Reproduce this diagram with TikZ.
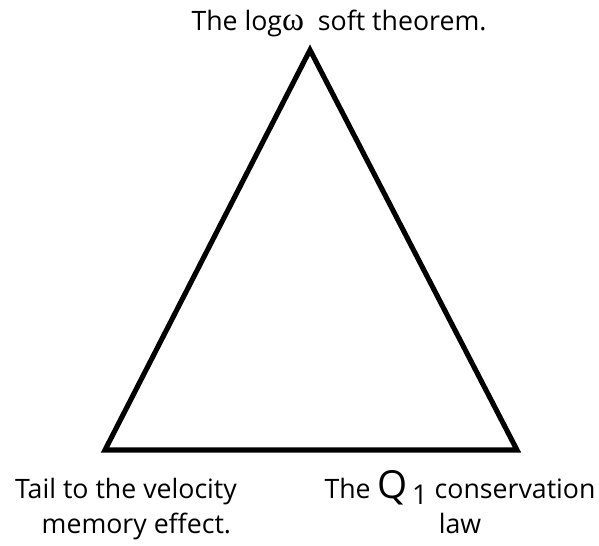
\documentclass[tikz,border=0pt]{standalone}
\usepackage{fontspec}
\setmainfont{Open Sans}
\newfontfamily\grkfont{Liberation Serif}
\usetikzlibrary{positioning}

\begin{document}
\begin{tikzpicture}[
  x=0.02cm, y=-0.02cm,
  font=\fontsize{15.2}{19.8}\selectfont,
  edge/.style={draw, line width=2.9pt, line join=miter},
  vlabel/.style={align=center, inner sep=0pt, text=black},
]

% canvas
\useasboundingbox (0,0) rectangle (599,545);

% --- corners ---
\coordinate (top)   at (310,50);
\coordinate (left)  at (105,450);
\coordinate (right) at (517,450);

% --- triangle ---
\path[edge] (top) -- (left) -- (right) -- cycle;

% --- labels (base = last line) ---
\node[vlabel, anchor=base] (soft) at (339,30)
  {The log{\grkfont\fontsize{19}{19}\selectfont ω}\ \ soft theorem.};
\node[vlabel, anchor=base] (tail) at (126,533)
  {Tail to the velocity\\ \ \ \ memory effect.};
\node[vlabel, anchor=base] (cons) at (460,533)
  {The {\fontsize{22}{19}\selectfont Q}\,{\raisebox{-0.45ex}{\fontsize{15.5}{15}\selectfont 1}} conservation\\law};

\end{tikzpicture}
\end{document}
